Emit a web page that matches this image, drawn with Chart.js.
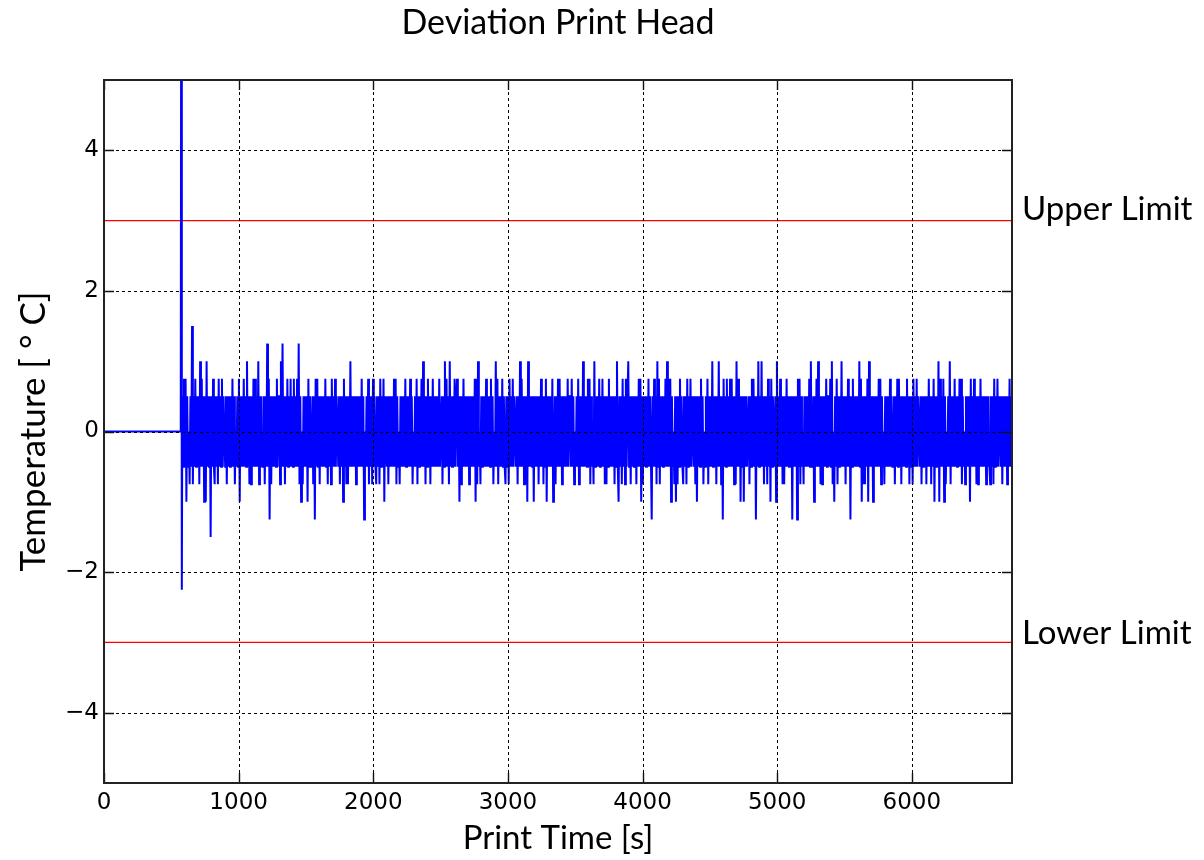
<!DOCTYPE html>
<html>
<head>
<meta charset="utf-8">
<script src="https://cdn.jsdelivr.net/npm/chart.js@4.4.1/dist/chart.umd.min.js"></script>
<style>
  html, body { margin: 0; padding: 0; background: #fff; }
</style>
</head>
<body>
<canvas id="myChart" width="1204" height="860"></canvas>
<script>
'use strict';

// *Data*

// flat start, then the heater kick (top of the spike is clipped by the axes)
let leadTimes = [0, 570, 574, 578];
let leadValues = [0, 0, 8, -2.25];

// sensor deviation after the kick, one sample every 6 s, quarter degree steps
let noiseStart = 582;
let noiseStep = 6;
let noiseValues = [
  .5,-.5,.75,-.5,.75,-1,.5,-.5,0,-.75,.5,-.5,1.5,-.75,.5,-.5,.75,-.5,.5,-.5,
  .5,-.75,1,-.5,.75,-.5,.5,-1,.5,-1,1,-.5,.5,-.5,.5,-1.5,.5,-.5,.75,-.5,
  -.75,.5,-.5,.5,-.75,.75,-.5,.5,-.5,.75,-.5,.5,0,-.5,.5,-.75,.5,-.5,.5,-.5,
  .5,-.5,.75,-.5,.5,-.75,0,-.5,.5,-.5,.75,-1,.5,-.5,.5,-.5,.75,-.5,.5,-.5,
  1,-.5,.5,-.75,.5,-.75,.5,-.5,.75,-.5,.75,-.5,.5,-.5,1,-.75,.5,-.5,.5,-.5,
  -.5,.5,-.75,.5,-.5,1.25,-.5,.75,-1.25,.5,-.75,.5,-.5,.5,-.5,.5,-.5,.75,-.5,.5,
  .5,-.75,1,-.5,1.25,-.5,.5,-.75,.5,-.5,.75,-.5,.5,-.5,.75,-.5,.5,-.5,.75,-.5,
  .5,-.5,.75,-.5,1.25,-.75,.5,-1,0,-.75,.5,-.5,.5,-.5,.5,-1,.75,-.5,.5,-.5,
  -.5,.5,-.75,.5,-1.25,.75,-.5,.75,-.5,.5,-.75,.5,-.5,.5,-.5,.5,-.5,.75,-.5,.5,
  -.75,.5,-.5,.5,-.75,.75,-.5,.5,-.5,.75,-.5,.5,0,-.5,.5,-.75,.5,-.5,.5,-1,
  .75,-.5,.5,-.75,.5,-.75,.5,-.5,1,-.5,.5,-.5,.5,-.5,.5,-.75,.5,-.5,.5,-.5,
  .5,-.5,.75,-.5,.5,-1.25,0,-.5,.5,-.5,.75,-.75,.5,-.5,.5,-.75,.75,-.5,.5,-.5,
  -.75,.5,-.5,.5,-.75,.75,-.5,.5,-.5,.75,-1,.5,0,-.5,.5,-.75,.5,-.5,.5,-.5,
  .5,-.5,.75,-.5,.75,-.75,.5,-.5,0,-.75,.5,-.5,.5,-.5,.5,-.5,.75,-.5,.5,-.5,
  .5,-.5,.75,-.5,.5,-.75,0,-.5,.5,-.5,.75,-.75,.5,-.5,.5,-.5,.75,-.5,1,-.5,
  .5,-.75,.5,-.5,.75,-.5,.5,-.75,.5,-.5,.75,-.5,.5,-.5,.5,-.5,.5,-.5,.75,-.5,
  -.5,.5,-.75,.5,-.5,1,-.5,.75,-.5,.5,-.75,1,-.5,.5,-.5,.5,-.5,.75,-.5,.5,
  .75,-.5,.5,-1,.5,-.75,.5,-.5,.75,-.5,.5,-.5,.5,-.5,.5,-.75,.5,-.5,.5,-.5,
  .5,-.5,.75,-1,.75,-.75,1,-.5,0,-.75,.5,-.5,.5,-.5,.5,-.5,.75,-.5,.5,-.5,
  .5,-.5,.75,-.5,.5,-.75,0,-.5,1,-.5,.75,-.75,.5,-.5,.5,-.5,.75,-.5,.5,-.5,
  -.75,.5,-.5,.5,-.75,.75,-.5,.5,-.5,.75,-.5,.5,0,-.5,.5,-.75,.5,-.5,1,-.5,
  .75,-.5,.5,-.75,.5,-.75,.5,-1,1,-.5,.5,-.5,.5,-.5,.5,-1,.5,-.5,.5,-.5,
  .5,-.75,.5,-.5,.75,-.5,.5,-.75,.5,-.5,.75,-1,.5,-.5,.5,-.5,.5,-.5,.75,-1,
  -.5,.5,-.75,.5,-.5,.75,-.5,.75,-.5,.5,-.75,.5,-.5,.5,-.5,.5,-.5,.75,-.5,.5,
  .5,-.5,.75,-.5,.5,-.75,0,-.5,.5,-.5,.75,-.75,.5,-.5,.5,-.5,1,-.5,.5,-.5,
  .5,-.5,.75,-.5,.75,-.75,.5,-.5,0,-.75,1,-.5,.5,-.5,.5,-.5,.75,-.5,.5,-.5,
  .75,-.5,.5,-.75,.5,-.75,.5,-.5,.75,-.5,.5,-.5,.5,-.5,.5,-.75,.5,-.5,1,-.5,
  -1,.5,-.5,.5,-.75,.75,-.5,.5,-.75,.75,-.5,.5,1,-.5,.5,-.75,.5,-.5,.5,-.5,
  -.5,.5,-.75,.5,-.5,.75,-.5,.75,-1,.5,-.75,.5,-.5,.5,-.5,.5,-.5,.75,-.5,.5,
  .5,-1.25,.5,-.5,.75,-.5,.5,-.75,1,-.5,.75,-.75,.5,-.5,.5,-.5,.5,-.5,.75,-.5,
  1,-.5,.75,-.5,.75,-1,.5,-.5,0,-.75,.5,-1,.5,-.75,.5,-.5,.75,-.5,.5,-.5,
  -.75,.5,-.5,.5,-.75,.75,-.5,.5,-.5,.75,-.5,.5,0,-.5,.5,-.75,.5,-1,.5,-.5,
  .5,-.5,.75,-.5,.5,-.75,0,-.5,.5,-.5,.75,-.75,.5,-.5,.5,-.5,1,-.5,.5,-.5,
  .5,-.75,.5,-.5,1,-.5,.5,-.75,.5,-1.25,.75,-.5,.5,-.5,.75,-.5,.5,-.5,.75,-.5,
  .75,-.5,.5,-.75,.5,-.75,1,-.5,.75,-.5,.5,-1,.5,-.5,.5,-1,.5,-.5,.5,-.5,
  -.5,.5,-.75,.5,-.5,.75,-.5,.75,-.5,.5,-1.25,.5,-.5,1,-.5,.5,-.5,1,-.5,.5,
  -.75,.5,-.5,.5,-.75,.75,-.5,.5,-1,.75,-.5,.5,0,-.5,.5,-1,1,-.5,.5,-.5,
  .75,-.5,.5,-.75,.5,-.75,.5,-.5,.75,-.5,.5,-.5,.5,-.5,.5,-1.25,.5,-.5,.5,-.5,
  .5,-1.25,.75,-.5,.75,-.75,.5,-.5,0,-.75,.5,-.5,.5,-.5,.5,-.5,.75,-.5,1,-.5,
  -.5,.5,-1,.5,-.5,.75,-.5,1,-.5,.5,-.75,.5,-.75,.5,-.5,.5,-.5,.75,-.5,.5,
  .5,-.5,.75,-.5,1,-.75,0,-1,.5,-.5,.75,-.75,.5,-.5,.5,-.5,1,-.5,.5,-.5,
  .5,-.75,.5,-.5,.75,-.5,.5,-1.25,.5,-.5,.75,-.5,.5,-.5,.5,-.5,.5,-.5,1,-.5,
  .75,-1,.5,-.75,.5,-.75,.5,-.5,.75,-1,1,-.5,.5,-.5,.5,-1,.5,-.5,.5,-.5,
  .5,-.5,.75,-.5,.75,-.75,.5,-.5,0,-.75,.5,-.5,.5,-.5,.5,-.5,.75,-.5,.5,-.5,
  -.5,.5,-.75,.5,-.5,.75,-.5,.75,-.5,.5,-.75,.5,-.5,.5,-.5,.5,-.5,.75,-.5,.5,
  -.75,.5,-.5,.5,-.75,.75,-.5,.5,-.5,.75,-.5,.5,0,-.5,.5,-.75,.5,-.5,.5,-.5,
  .5,-.75,.5,-.5,.75,-.5,.5,-.75,.5,-.5,.75,-1,.5,-.5,.5,-.5,1,-1,.75,-.5,
  .5,-.5,.75,-1,.5,-.75,0,-.5,.5,-.5,1,-.75,.5,-.5,.5,-.5,.75,-.5,.5,-.5,
  .5,-.5,.75,-.5,.75,-.75,.5,-.5,0,-.75,.5,-.5,.5,-.5,.5,-1,.75,-.5,.5,-.5,
  .75,-.5,.5,-.75,.5,-.75,.5,-.5,.75,-.5,.5,-.5,.5,-.5,.5,-.75,.5,-.5,.5,-.5,
  -.75,.5,-.5,.5,-.75,.75,-.5,.5,-.5,.75,-.5,.5,0,-.5,.5,-.75,.5,-.5,.5,-.5,
  .5,-.75,.5,-.5,.75,-.5,.5,.25
];

// limit lines and axes
let limitUpper = 3;
let limitLower = -3;
let xMax = 6744;
let xTicks = [0, 1000, 2000, 3000, 4000, 5000, 6000];
let yTicks = [-4, -2, 0, 2, 4];

// *Build the point lists*
let headPoints = [];
for (let i = 0; i < leadTimes.length; i++) {
  headPoints.push({ x: leadTimes[i], y: leadValues[i] });
}
for (let j = 0; j < noiseValues.length; j++) {
  headPoints.push({ x: noiseStart + j * noiseStep, y: noiseValues[j] });
}

let upperPoints = [{ x: 0, y: limitUpper }, { x: xMax, y: limitUpper }];
let lowerPoints = [{ x: 0, y: limitLower }, { x: xMax, y: limitLower }];

const labelFont = 'Lato, "DejaVu Sans", sans-serif';

// grid on top of the data, inward ticks on all four sides, frame, limit texts
const framePlugin = {
  id: 'framePlugin',
  afterDatasetsDraw(chart) {
    const { ctx, chartArea: a, scales: { x, y } } = chart;
    ctx.save();

    ctx.strokeStyle = '#000';
    ctx.lineWidth = 1;
    ctx.setLineDash([3, 3]);
    xTicks.forEach(v => {
      let px = Math.round(x.getPixelForValue(v)) + 0.5;
      ctx.beginPath();
      ctx.moveTo(px, a.top);
      ctx.lineTo(px, a.bottom);
      ctx.stroke();
    });
    yTicks.forEach(v => {
      let py = Math.round(y.getPixelForValue(v)) + 0.5;
      ctx.beginPath();
      ctx.moveTo(a.left, py);
      ctx.lineTo(a.right, py);
      ctx.stroke();
    });
    ctx.setLineDash([]);

    let tickLen = 10;
    ctx.strokeStyle = '#111';
    ctx.lineWidth = 1.4;
    xTicks.forEach(v => {
      let px = Math.round(x.getPixelForValue(v)) + 0.5;
      ctx.beginPath();
      ctx.moveTo(px, a.bottom);
      ctx.lineTo(px, a.bottom - tickLen);
      ctx.moveTo(px, a.top);
      ctx.lineTo(px, a.top + tickLen);
      ctx.stroke();
    });
    yTicks.forEach(v => {
      let py = Math.round(y.getPixelForValue(v)) + 0.5;
      ctx.beginPath();
      ctx.moveTo(a.left, py);
      ctx.lineTo(a.left + tickLen, py);
      ctx.moveTo(a.right, py);
      ctx.lineTo(a.right - tickLen, py);
      ctx.stroke();
    });

    ctx.strokeStyle = '#222';
    ctx.lineWidth = 2;
    ctx.strokeRect(a.left, a.top, a.right - a.left, a.bottom - a.top);

    ctx.fillStyle = '#000';
    ctx.font = '33px ' + labelFont;
    ctx.textAlign = 'left';
    ctx.textBaseline = 'alphabetic';
    ctx.fillText('Upper Limit', a.right + 10, y.getPixelForValue(limitUpper) - 1);
    ctx.fillText('Lower Limit', a.right + 10, y.getPixelForValue(limitLower) + 2);

    ctx.restore();
  }
};

const ctx = document.getElementById('myChart');

new Chart(ctx, {
  type: 'line',
  data: {
    datasets: [
      {
        label: 'Deviation',
        data: headPoints,
        borderColor: 'blue',
        borderWidth: 2,
        pointRadius: 0,
        tension: 0,
        fill: false
      },
      {
        label: 'Upper Limit',
        data: upperPoints,
        borderColor: 'red',
        borderWidth: 1.4,
        pointRadius: 0,
        fill: false
      },
      {
        label: 'Lower Limit',
        data: lowerPoints,
        borderColor: 'red',
        borderWidth: 1.4,
        pointRadius: 0,
        fill: false
      }
    ]
  },
  options: {
    responsive: false,
    devicePixelRatio: 1,
    animation: false,
    layout: { padding: { left: 0, right: 192, top: 0, bottom: 0 } },
    plugins: {
      legend: { display: false },
      tooltip: { enabled: false },
      title: {
        display: true,
        text: 'Deviation Print Head',
        fullSize: false,
        color: '#000',
        font: { family: labelFont, size: 34, weight: 'normal' },
        padding: { top: 2.6, bottom: 36.6 }
      }
    },
    scales: {
      x: {
        type: 'linear',
        min: 0,
        max: xMax,
        afterBuildTicks: (scale) => { scale.ticks = xTicks.map(v => ({ value: v })); },
        afterFit: (scale) => { scale.height = 77; },
        grid: { display: false, drawTicks: false },
        border: { display: false },
        ticks: {
          padding: 6,
          color: '#000',
          autoSkip: false,
          maxRotation: 0,
          font: { family: 'DejaVu Sans', size: 23 },
          callback: (v) => String(v)
        },
        title: {
          display: true,
          text: 'Print Time [s]',
          color: '#000',
          font: { family: labelFont, size: 33 },
          padding: { top: 0, bottom: 2 }
        }
      },
      y: {
        type: 'linear',
        min: -5,
        max: 5,
        afterBuildTicks: (scale) => { scale.ticks = yTicks.map(v => ({ value: v })); },
        afterFit: (scale) => { scale.width = 104; },
        grid: { display: false, drawTicks: false },
        border: { display: false },
        ticks: {
          padding: 5,
          color: '#000',
          font: { family: 'DejaVu Sans', size: 23 },
          callback: (v) => (v < 0 ? '\u2212' + Math.abs(v) : String(v))
        },
        title: {
          display: true,
          text: 'Temperature [ \u00b0 C]',
          color: '#000',
          font: { family: labelFont, size: 35 },
          padding: { top: 13, bottom: 0 }
        }
      }
    }
  },
  plugins: [framePlugin]
});
</script>
</body>
</html>
